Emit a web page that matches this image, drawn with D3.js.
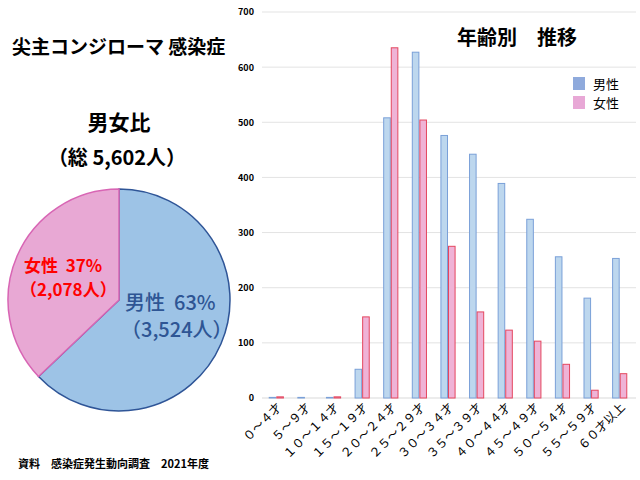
<!DOCTYPE html>
<html><head><meta charset="utf-8">
<script src="https://cdn.jsdelivr.net/npm/d3@7"></script>
<style>
body{margin:0;background:#fff;}
text{font-family:"Noto Sans CJK JP","Noto Sans",sans-serif;}
</style></head>
<body>
<svg id="c" width="640" height="480"></svg>
<script>
const categories = ["０～４才","５～９才","１０～１４才","１５～１９才","２０～２４才","２５～２９才","３０～３４才","３５～３９才","４０～４４才","４５～４９才","５０～５４才","５５～５９才","６０才以上"];
const maleValues   = [2, 2, 2, 53, 509, 628, 477, 443, 390, 325, 257, 182, 254];
const femaleValues = [3, 0, 3, 148, 636, 505, 276, 157, 124, 104, 62, 15, 45];
const yTicks = [0, 100, 200, 300, 400, 500, 600, 700];
const seriesNames = ["男性", "女性"];
const pieLabels = ["男性", "女性"];
const pieValues = [3524, 2078];
const piePercents = ["63%", "37%"];
const pieCounts = ["（3,524人）", "（2,078人）"];
const totalLabel = "（総 5,602人）";

const svg = d3.select("#c");

// ---------- bar chart ----------
const x0 = d3.scaleBand().domain(categories).range([262, 634]).paddingInner(0.47).paddingOuter(0.235);
const x1 = d3.scaleBand().domain(seriesNames).range([0, x0.bandwidth()]).padding(0);
const y = d3.scaleLinear().domain([0, 700]).range([398, 12]);

const grid = svg.append("g");
grid.selectAll("line").data(yTicks.filter(d => d > 0)).join("line")
  .attr("x1", 262).attr("x2", 636)
  .attr("y1", d => y(d)).attr("y2", d => y(d))
  .attr("stroke", "#e3e3e3").attr("stroke-width", 1);
svg.append("line").attr("x1", 262).attr("x2", 636).attr("y1", y(0)).attr("y2", y(0))
  .attr("stroke", "#d9d9d9").attr("stroke-width", 1);

const yAxis = svg.append("g").attr("transform", "translate(254,0)")
  .call(d3.axisLeft(y).tickValues(yTicks).tickSize(0).tickPadding(0));
yAxis.select(".domain").remove();
yAxis.selectAll("text").attr("font-size", 9).attr("font-weight", "bold").attr("fill", "#000")
  .attr("font-family", "Roboto, sans-serif");

const series = [
  {name: "男性", values: maleValues, fill: "#bdd7ee", stroke: "#7aa0d8"},
  {name: "女性", values: femaleValues, fill: "#efb3d6", stroke: "#e4475f"}
];
series.forEach(s => {
  svg.append("g").selectAll("rect").data(s.values).join("rect")
    .attr("x", (d, i) => x0(categories[i]) + x1(s.name) + 0.5)
    .attr("y", d => y(d) + 0.5)
    .attr("width", x1.bandwidth() - 1)
    .attr("height", d => Math.max(0, y(0) - y(d) - 0.5))
    .attr("fill", s.fill).attr("stroke", s.stroke).attr("stroke-width", 1);
});

// x labels
const xl = svg.append("g");
xl.selectAll("text").data(categories).join("text")
  .attr("transform", d => `translate(${x0(d) + x0.bandwidth() / 2 + 6},${408}) rotate(-45)`)
  .attr("text-anchor", "end")
  .attr("font-size", 12).attr("fill", "#000")
  .text(d => d);

// title
svg.append("text").attr("x", 517).attr("y", 45).attr("text-anchor", "middle")
  .attr("font-size", 20).attr("font-weight", "bold").attr("fill", "#000").text("年齢別　推移");

// legend
const lg = svg.append("g");
const legendColors = ["#8faadc", "#e8a8d6"];
seriesNames.forEach((n, i) => {
  lg.append("rect").attr("x", 573).attr("y", 77 + i * 19).attr("width", 12).attr("height", 13).attr("fill", legendColors[i]);
  lg.append("text").attr("x", 593).attr("y", 89 + i * 19).attr("font-size", 13).attr("fill", "#000").text(n);
});

// ---------- pie ----------
const cx = 119, cy = 300, r = 111;
const pie = d3.pie().sort(null).value(d => d)(pieValues);
const arc = d3.arc().innerRadius(0).outerRadius(r);
const pieFill = ["#9dc3e6", "#e8a8d4"];
const pieStroke = ["#2f5597", "#d865b4"];
const pg = svg.append("g").attr("transform", `translate(${cx},${cy})`);
pg.selectAll("path").data(pie).join("path")
  .attr("d", arc).attr("fill", (d, i) => pieFill[i])
  .attr("stroke", (d, i) => pieStroke[i]).attr("stroke-width", 1.5);

svg.append("text").attr("x", 125).attr("y", 310).attr("font-size", 20).attr("font-weight", 500).attr("fill", "#2e5594")
  .text(pieLabels[0] + "\u00a0\u00a0" + piePercents[0]);
svg.append("text").attr("x", 121).attr("y", 337).attr("font-size", 20).attr("font-weight", 500).attr("fill", "#2e5594")
  .text(pieCounts[0]);
svg.append("text").attr("x", 24).attr("y", 272).attr("font-size", 17).attr("font-weight", "bold").attr("fill", "#ff0000")
  .text(pieLabels[1] + "\u00a0\u00a0" + piePercents[1]);
svg.append("text").attr("x", 20).attr("y", 296).attr("font-size", 17).attr("font-weight", "bold").attr("fill", "#ff0000")
  .text(pieCounts[1]);

// left titles
svg.append("text").attr("x", 12).attr("y", 54).attr("font-size", 19).attr("font-weight", "bold").attr("fill", "#000")
  .text("尖主コンジローマ 感染症");
svg.append("text").attr("x", 119).attr("y", 130).attr("text-anchor", "middle").attr("font-size", 21).attr("font-weight", "bold").attr("fill", "#000")
  .text("男女比");
svg.append("text").attr("x", 117).attr("y", 165).attr("text-anchor", "middle").attr("font-size", 20).attr("font-weight", "bold").attr("fill", "#000")
  .text(totalLabel);

svg.append("text").attr("x", 18).attr("y", 468).attr("font-size", 11).attr("font-weight", "bold").attr("fill", "#000")
  .text("資料　感染症発生動向調査　2021年度");
</script>
</body></html>
